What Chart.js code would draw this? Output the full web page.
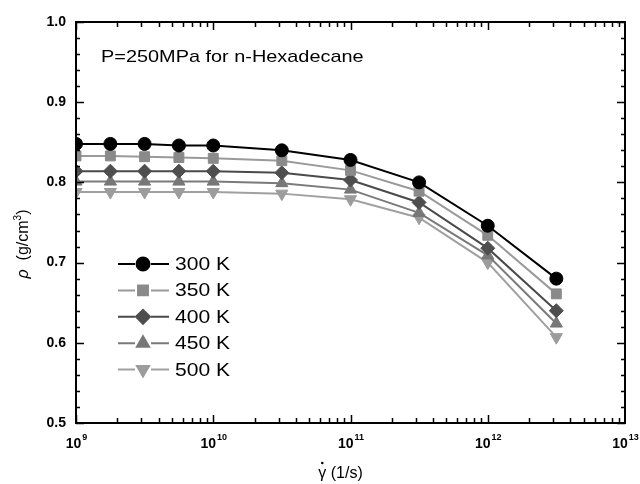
<!DOCTYPE html>
<html>
<head>
<meta charset="utf-8">
<script src="https://cdn.jsdelivr.net/npm/chart.js@4/dist/chart.umd.min.js"></script>
<style>
  html, body { margin: 0; padding: 0; background: #fff; }
  #wrap { width: 640px; height: 484px; }
</style>
</head>
<body>
<div id="wrap"><canvas id="cv" width="640" height="484"></canvas></div>
<script>
// shear rate (1/s) and density (g/cm3) at P = 250 MPa
const shearRate = [1e9, 1.78e9, 3.16e9, 5.62e9, 1e10, 3.16e10, 1e11, 3.16e11, 1e12, 3.16e12];
const rho300 = [0.848, 0.848, 0.848, 0.846, 0.846, 0.840, 0.828, 0.800, 0.746, 0.680];
const rho350 = [0.833, 0.833, 0.832, 0.831, 0.830, 0.827, 0.815, 0.789, 0.734, 0.661];
const rho400 = [0.814, 0.814, 0.814, 0.814, 0.814, 0.812, 0.803, 0.775, 0.718, 0.640];
const rho450 = [0.801, 0.801, 0.801, 0.801, 0.801, 0.799, 0.791, 0.762, 0.709, 0.624];
const rho500 = [0.788, 0.788, 0.788, 0.788, 0.788, 0.786, 0.779, 0.756, 0.700, 0.607];
const seriesLabels = ['300 K', '350 K', '400 K', '450 K', '500 K'];
const xDecades = [9, 10, 11, 12, 13];
const yTicks = [0.5, 0.6, 0.7, 0.8, 0.9, 1.0];
const plotTitle = 'P=250MPa for n-Hexadecane';

const FONT = "'Liberation Sans', Arial, sans-serif";

function pts(ys) {
  return shearRate.map((x, i) => ({ x: x, y: ys[i] }));
}

function series(label, ys, color, markColor, style, radius, rotation) {
  return {
    label: label,
    data: pts(ys),
    borderColor: color,
    borderWidth: 2,
    backgroundColor: markColor,
    pointBackgroundColor: markColor,
    pointBorderColor: markColor,
    pointBorderWidth: 1,
    pointStyle: style,
    pointRadius: radius,
    pointRotation: rotation || 0,
    tension: 0
  };
}

// draws text stretched horizontally
function wideText(ctx, text, x, y, sx) {
  ctx.save();
  ctx.translate(x, y);
  ctx.scale(sx, 1);
  ctx.fillText(text, 0, 0);
  ctx.restore();
}

const framePlugin = {
  id: 'frame',
  afterDraw(chart) {
    const ctx = chart.ctx;
    const a = chart.chartArea;
    const xs = chart.scales.x, ys = chart.scales.y;
    ctx.save();
    ctx.strokeStyle = '#000';
    ctx.fillStyle = '#000';

    // inward ticks on all four sides
    ctx.lineWidth = 1.5;
    ctx.beginPath();
    for (let i = 0; i <= 25; i++) {
      const v = 0.5 + i * 0.02;
      const py = Math.round(ys.getPixelForValue(v)) + 0.5;
      const len = i % 5 === 0 ? 8 : 4;
      ctx.moveTo(a.left, py); ctx.lineTo(a.left + len, py);
      ctx.moveTo(a.right, py); ctx.lineTo(a.right - len, py);
    }
    for (let d = 9; d <= 12; d++) {
      for (let m = 1; m <= 9; m++) {
        const px = Math.round(xs.getPixelForValue(m * Math.pow(10, d))) + 0.5;
        const len = m === 1 ? 8 : 5;
        ctx.moveTo(px, a.bottom); ctx.lineTo(px, a.bottom - len);
        ctx.moveTo(px, a.top); ctx.lineTo(px, a.top + len);
      }
    }
    ctx.stroke();

    ctx.lineWidth = 2;
    ctx.strokeRect(a.left, a.top, a.right - a.left, a.bottom - a.top);

    // decade labels with superscript exponents
    ctx.textBaseline = 'alphabetic';
    ctx.textAlign = 'left';
    xDecades.forEach(d => {
      const px = xs.getPixelForValue(Math.pow(10, d));
      ctx.font = 'bold 14px ' + FONT;
      const wBase = ctx.measureText('10').width;
      ctx.font = 'bold 9px ' + FONT;
      const wExp = ctx.measureText(String(d)).width;
      const x0 = px - (wBase + wExp) / 2;
      ctx.font = 'bold 14px ' + FONT;
      ctx.fillText('10', x0, a.bottom + 25);
      ctx.font = 'bold 9px ' + FONT;
      ctx.fillText(String(d), x0 + wBase + 1, a.bottom + 17);
    });

    // x axis title: gamma with a dot above
    ctx.font = '16px ' + FONT;
    ctx.textAlign = 'left';
    ctx.textBaseline = 'alphabetic';
    const gw = ctx.measureText('\u03B3').width;
    const tw = ctx.measureText(' (1/s)').width;
    const gx = (a.left + a.right) / 2 - 10 - (gw + tw) / 2;
    ctx.fillText('\u03B3', gx, 478);
    ctx.fillText(' (1/s)', gx + gw, 478);
    ctx.beginPath();
    ctx.arc(gx + gw / 2, 463, 1.3, 0, Math.PI * 2);
    ctx.fill();

    // y axis title
    ctx.save();
    ctx.translate(24, 244);
    ctx.rotate(-Math.PI / 2);
    ctx.textBaseline = 'middle';
    ctx.font = 'italic 16px ' + FONT;
    const rw = ctx.measureText('\u03C1').width;
    ctx.font = '16px ' + FONT;
    const bw = ctx.measureText('  (g/cm').width;
    ctx.font = '10px ' + FONT;
    const sw = ctx.measureText('3').width;
    ctx.font = '16px ' + FONT;
    const pw = ctx.measureText(')').width;
    let tx = -(rw + bw + sw + pw) / 2;
    ctx.font = 'italic 16px ' + FONT;
    ctx.fillText('\u03C1', tx, 0); tx += rw;
    ctx.font = '16px ' + FONT;
    ctx.fillText('  (g/cm', tx, 0); tx += bw;
    ctx.font = '10px ' + FONT;
    ctx.fillText('3', tx, -6); tx += sw;
    ctx.font = '16px ' + FONT;
    ctx.fillText(')', tx, 0);
    ctx.restore();

    // in-plot title
    ctx.font = '17px ' + FONT;
    ctx.textAlign = 'left';
    ctx.textBaseline = 'middle';
    wideText(ctx, plotTitle, 101, 57, 1.17);

    // legend: line - marker - line
    chart.data.datasets.forEach((ds, i) => {
      const ry = 264 + i * 26.4;
      ctx.strokeStyle = ds.borderColor;
      ctx.lineWidth = ds.borderWidth;
      ctx.beginPath();
      ctx.moveTo(118, ry); ctx.lineTo(135, ry);
      ctx.moveTo(151, ry); ctx.lineTo(169, ry);
      ctx.stroke();
      ctx.fillStyle = ds.pointBackgroundColor;
      ctx.strokeStyle = ds.pointBorderColor;
      Chart.helpers.drawPoint(ctx, {
        pointStyle: ds.pointStyle,
        rotation: ds.pointRotation,
        radius: ds.pointRadius,
        borderWidth: 1
      }, 143, ry);
      ctx.fillStyle = '#000';
      ctx.font = '18px ' + FONT;
      wideText(ctx, ds.label, 175, ry + 1, 1.17);
    });
    ctx.restore();
  }
};

new Chart(document.getElementById('cv').getContext('2d'), {
  type: 'line',
  data: {
    datasets: [
      series(seriesLabels[0], rho300, '#000000', '#000000', 'circle', 6.5, 0),
      series(seriesLabels[1], rho350, '#9a9a9a', '#8a8a8a', 'rect', 7, 0),
      series(seriesLabels[2], rho400, '#4a4a4a', '#4e4e4e', 'rectRot', 7, 0),
      series(seriesLabels[3], rho450, '#7a7a7a', '#777777', 'triangle', 7, 0),
      series(seriesLabels[4], rho500, '#a0a0a0', '#9c9c9c', 'triangle', 7, 180)
    ]
  },
  options: {
    responsive: false,
    animation: false,
    layout: { padding: { left: 0, top: 22, right: 15, bottom: 0 } },
    plugins: { legend: { display: false }, tooltip: { enabled: false } },
    scales: {
      x: {
        type: 'logarithmic',
        min: 1e9,
        max: 1e13,
        grid: { display: false, drawTicks: false },
        border: { display: false },
        ticks: { display: false },
        afterFit(scale) { scale.height = 61; }
      },
      y: {
        min: 0.5,
        max: 1.0,
        afterBuildTicks(scale) { scale.ticks = yTicks.map(v => ({ value: v })); },
        grid: { display: false, drawTicks: false },
        border: { display: false },
        ticks: {
          padding: 10,
          color: '#000',
          font: { family: FONT, size: 14, weight: 'bold' },
          callback: v => Number(v).toFixed(1)
        },
        afterFit(scale) { scale.width = 76; }
      }
    }
  },
  plugins: [framePlugin]
});
</script>
</body>
</html>
